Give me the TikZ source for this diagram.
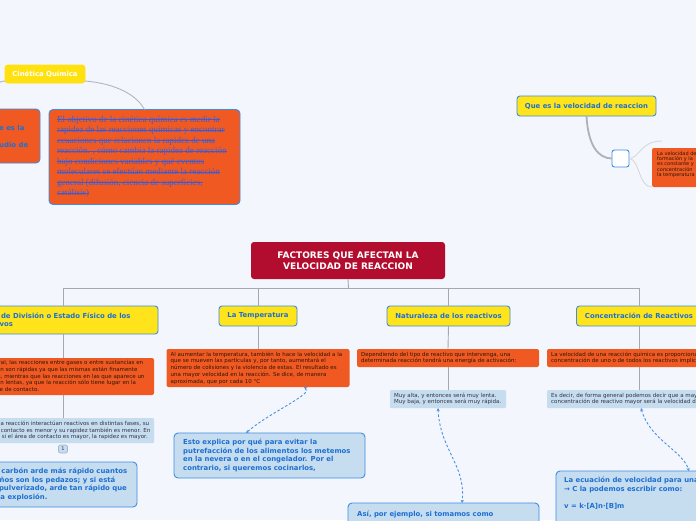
\documentclass[tikz,border=0pt]{standalone}
\usepackage{fontspec}
\setmainfont{DejaVu Sans}
\newfontfamily\serifb{Liberation Serif}
\usetikzlibrary{arrows.meta}
\newcommand\mysout[1]{\setbox0\hbox{#1}\makebox[0pt][l]{\rule[2.4pt]{\wd0}{0.6pt}}\box0}
\definecolor{bgc}{HTML}{F3F6FC}
\definecolor{hyel}{HTML}{FFE41C}
\definecolor{cqy}{HTML}{FFE10F}
\definecolor{bblue}{HTML}{3D8CE6}
\definecolor{tblue}{HTML}{1D6FD1}
\definecolor{orng}{HTML}{F05A22}
\definecolor{dtext}{HTML}{2E1608}
\definecolor{ltext}{HTML}{30333F}
\definecolor{lblue}{HTML}{C6DDF0}
\definecolor{titc}{HTML}{B20C2E}
\definecolor{gline}{HTML}{A5A9AF}
\definecolor{sblue}{HTML}{3D5AD0}
\definecolor{dashb}{HTML}{4A90E2}
\definecolor{badgef}{HTML}{C9DCEF}
\definecolor{badgeb}{HTML}{9DB7D3}
\newcommand\myfh{\fontsize{6.9}{8.7}\selectfont\bfseries}
\newcommand\myfs{\fontsize{5.5}{6.7}\selectfont}
\newcommand\myft{\fontsize{9}{11}\selectfont\bfseries}
\newcommand\myfser{\serifb\fontsize{9}{10.5}\selectfont}
\tikzset{
  boxbase/.style={inner sep=0pt, outer sep=0pt},
  ybox/.style={boxbase, fill=hyel, draw=bblue, line width=0.9pt, rounded corners=3pt, text=tblue, font=\myfh},
  obox/.style={boxbase, fill=orng, rounded corners=2pt},
  lbox/.style={boxbase, fill=lblue, rounded corners=1pt},
  bbox/.style={boxbase, fill=lblue, draw=bblue, line width=0.9pt, rounded corners=4pt},
  stxt/.style={inner sep=0pt, align=left, font=\myfs, text=dtext, anchor=west},
  ltxt/.style={inner sep=0pt, align=left, font=\myfs, text=ltext, anchor=west},
  btxt/.style={inner sep=0pt, align=left, font=\myfh, text=tblue, anchor=west},
  tline/.style={draw=gline, line width=0.9pt},
  gl/.style={draw=gline!85, line width=0.9pt},
  dconn/.style={draw=dashb, line width=0.9pt, dash pattern=on 2.5pt off 2pt,
    {Stealth[length=3.2pt,width=3.2pt]}-{Stealth[length=3.2pt,width=3.2pt]}}
}
\begin{document}
\begin{tikzpicture}[x=1pt,y=-1pt]
\useasboundingbox (0,0) rectangle (696,520);
\fill[bgc] (0,0) rectangle (696,520);
\clip (0,0) rectangle (696,520);

% top left
\node[ybox, fill=cqy, draw=cqy, text=white, minimum width=80pt, minimum height=18pt] (cq) at (45,74) {Cinética Química};
\node[obox, draw=bblue, line width=0.9pt, rounded corners=4pt, minimum width=60pt, minimum height=54pt] (op) at (10,136) {};
\node[btxt] (opt) at (-1,136.5) {e es la\\\mbox{}\\udio de};
\node[obox, draw=bblue, line width=0.9pt, rounded corners=4pt, minimum width=191pt, minimum height=95pt] (ob) at (144.5,157) {};
\node[inner sep=0pt, align=left, font=\myfser, text=sblue, anchor=west] (obt) at ([xshift=8pt]ob.west) {%
\mysout{El objetivo de la cinética química es medir la}\\
\mysout{rapidez de las reacciones químicas y encontrar}\\
\mysout{ecuaciones que relacionen la rapidez de una}\\
\mysout{reacción. , cómo cambia la rapidez de reacción}\\
\mysout{bajo condiciones variables y qué eventos}\\
\mysout{moleculares se efectúan mediante la reacción}\\
\mysout{general (difusión, ciencia de superficies,}\\
\mysout{catálisis)}};
\coordinate (offL) at (-8,86);
\draw[gl] ([yshift=2pt]cq.south east) .. controls (110,83) and (135,92) .. (ob.north);
\draw[gl] ([yshift=2pt]cq.south west) .. controls (2,81) .. (offL);

% top right
\node[ybox, minimum width=139pt, minimum height=20pt] (qv) at (586.5,106) {Que es la velocidad de reaccion};
\node[boxbase, draw=bblue, fill=white, rounded corners=2.5pt, line width=0.9pt, minimum width=17pt, minimum height=17pt] (wb) at (620.5,158.5) {};
\node[obox, minimum width=100pt, minimum height=39pt] (ro) at (702,167.5) {};
\node[stxt, font=\fontsize{5}{5.3}\selectfont] (rot) at (657,164.5) {La velocidad de\\formación y la\\es constante y\\concentración\\la temperatura};
\coordinate (tb) at (662,141);
\draw[draw=gline!90, line width=1.8pt] (qv.south) .. controls (588,145) and (598,158.5) .. (wb.west);
\draw[draw=gline!45, line width=0.9pt] (wb.east) .. controls (640,158) and (640,141) .. (tb);
\draw[draw=gline!45, line width=0.9pt] (wb.east) .. controls (640,159) and (638,187) .. (ro.south west);

% title and headers
\node[boxbase, fill=titc, rounded corners=3pt, minimum width=194pt, minimum height=37pt, text=white, font=\myft, align=center] (ti) at (348,260.5) {FACTORES QUE AFECTAN LA\\VELOCIDAD DE REACCION};
\node[ybox, minimum width=190pt, minimum height=28pt] (hL) at (63,320) {};
\node[btxt, font=\fontsize{6.9}{8.4}\selectfont\bfseries] (hLt) at ([xshift=7pt]hL.west) {Grado de División o Estado Físico de los\\Reactivos};
\node[ybox, minimum width=78pt, minimum height=20pt] (hT) at (258,316) {La Temperatura};
\node[ybox, minimum width=123pt, minimum height=20pt] (hN) at (448.5,316) {Naturaleza de los reactivos};
\node[ybox, minimum width=125pt, minimum height=20pt] (hC) at (639,316) {Concentración de Reactivos};
\coordinate (tj) at (348.5,288);
\draw[tline] (ti.south) -- (tj);
\draw[tline] (hL.north) -- ++(0,-18) -| (hC.north);
\draw[tline] (hT.north) -- (hT.north |- tj);
\draw[tline] (hN.north) -- (hN.north |- tj);

% orange boxes
\node[obox, minimum width=182pt, minimum height=37pt] (oL) at (63,376.5) {};
\node[stxt] (oLt) at ([xshift=4pt]oL.west) {En general, las reacciones entre gases o entre sustancias en\\disolución son rápidas ya que las mismas están finamente\\divididas, mientras que las reacciones en las que aparece un\\sólido son lentas, ya que la reacción sólo tiene lugar en la\\superficie de contacto.};
\node[obox, minimum width=183pt, minimum height=38pt] (oT) at (258,368) {};
\node[stxt] (oTt) at ([xshift=4pt]oT.west) {Al aumentar la temperatura, también lo hace la velocidad a la\\que se mueven las partículas y, por tanto, aumentará el\\número de colisiones y la violencia de estas. El resultado es\\una mayor velocidad en la reacción. Se dice, de manera\\aproximada, que por cada 10 °C};
\node[obox, minimum width=182pt, minimum height=18pt] (oN) at (448,358) {};
\node[stxt] (oNt) at ([xshift=4pt]oN.west) {Dependiendo del tipo de reactivo que intervenga, una\\determinada reacción tendrá una energía de activación:};
\node[obox, minimum width=184pt, minimum height=18pt] (oC) at (639,358) {};
\node[stxt] (oCt) at ([xshift=4pt]oC.west) {La velocidad de una reacción química es proporcional a la\\concentración de uno o de todos los reactivos implicados};
\draw[tline] (hL.south) -- (oL.north);
\draw[tline] (hT.south) -- (oT.north);
\draw[tline] (hN.south) -- (oN.north);
\draw[tline] (hC.south) -- (oC.north);

% light boxes
\node[lbox, minimum width=182pt, minimum height=25pt] (lL) at (63,430.5) {};
\node[ltxt] (lLt) at ([xshift=6pt]lL.west) {Si en una reacción interactúan reactivos en distintas fases, su\\área de contacto es menor y su rapidez también es menor. En\\cambio, si el área de contacto es mayor, la rapidez es mayor.};
\node[lbox, minimum width=116pt, minimum height=18pt] (lN) at (448,399) {};
\node[ltxt] (lNt) at ([xshift=4pt]lN.west) {Muy alta, y entonces será muy lenta.\\Muy baja, y entonces será muy rápida.};
\node[lbox, minimum width=184pt, minimum height=18pt] (lC) at (639,399) {};
\node[ltxt] (lCt) at ([xshift=4pt]lC.west) {Es decir, de forma general podemos decir que a mayor\\concentración de reactivo mayor será la velocidad de reacción};
\draw[tline] (oL.south) -- (lL.north);
\draw[tline] (oN.south) -- (lN.north);
\draw[tline] (oC.south) -- (lC.north);
\node[boxbase, draw=badgeb, fill=badgef, rounded corners=2pt, line width=0.7pt, minimum width=9pt, minimum height=8pt, font=\fontsize{5}{5}\selectfont, text=ltext] (bd) at (63,449) {1};

% blue bordered boxes
\node[bbox, minimum width=188pt, minimum height=45pt] (cb) at (43,484.5) {};
\node[btxt] (cbt) at ([xshift=8pt]cb.west) {Por ello, el carbón arde más rápido cuantos\\más pequeños son los pedazos; y si está\\finamente pulverizado, arde tan rápido que\\provoca una explosión.};
\node[bbox, minimum width=191pt, minimum height=45pt] (ee) at (269.5,455.5) {};
\node[btxt] (eet) at ([xshift=9pt]ee.west) {Esto explica por qué para evitar la\\putrefacción de los alimentos los metemos\\en la nevera o en el congelador. Por el\\contrario, si queremos cocinarlos,};
\node[bbox, minimum width=191pt, minimum height=54pt] (as) at (443.5,530) {};
\node[btxt, anchor=north west] (ast) at (357,510.3) {Así, por ejemplo, si tomamos como};
\node[bbox, minimum width=190pt, minimum height=98pt] (ec) at (651,520) {};
\node[btxt, anchor=north west] (ect) at (564,477) {La ecuación de velocidad para una\\→ C la podemos escribir como:\\\mbox{}\\v = k·[A]n·[B]m};

% dashed connectors
\draw[dconn] ([xshift=46pt]oT.south) .. controls (314,394) and (270,412) .. ([xshift=-23.5pt]ee.north);
\draw[dconn] ([xshift=-10pt]lN.south) .. controls (440,450) and (466,465) .. ([xshift=18.5pt]as.north);
\draw[dconn] ([xshift=2pt]lC.south) .. controls (650,440) and (682,450) .. ([xshift=38pt]ec.north);
\end{tikzpicture}
\end{document}
